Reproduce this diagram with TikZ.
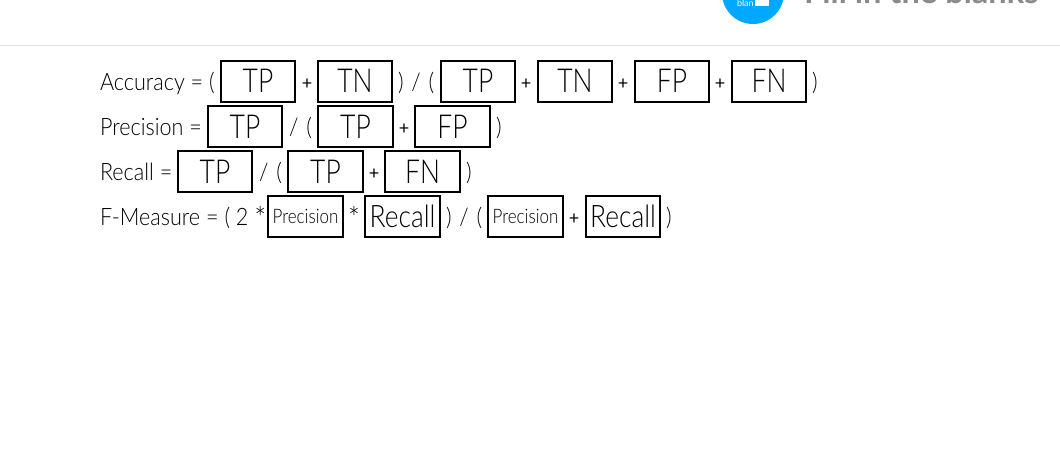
\documentclass[tikz,border=0pt]{standalone}
\usepackage{fontspec}
\setmainfont{Lato}[UprightFont=* Light,BoldFont=* Bold,FakeStretch=0.9]
\newfontfamily\boxfont{Lato}[UprightFont=* Light,FakeStretch=0.8]
\newfontfamily\wordfont{Lato}[UprightFont=* Light,FakeStretch=0.85]
\newfontfamily\plainfont{Lato}
\definecolor{brandblue}{HTML}{00A9FF}
\definecolor{titlegrey}{HTML}{8A8A8A}
\definecolor{rulegrey}{HTML}{E2E2E2}
\newcommand{\bigsz}{\boxfont\fontsize{33}{33}\selectfont}
\newcommand{\recsz}{\wordfont\fontsize{31}{31}\selectfont}
\newcommand{\lblsz}{\fontsize{24}{24}\selectfont}
\newcommand{\smsz}{\wordfont\fontsize{20}{20}\selectfont}
\newcommand{\starsz}{\fontsize{31}{31}\selectfont}
\tikzset{
  every node/.style={inner sep=0pt,outer sep=0pt},
  blankbox/.style={draw=black,line width=2pt,minimum height=41pt,anchor=center,text=black},
  wide/.style={blankbox,minimum width=74pt,font=\bigsz},
  wider/.style={wide,minimum width=75pt},
  lbl/.style={anchor=base west,font=\lblsz,text=black},
  plus/.style={anchor=base,font=\plainfont\fontsize{18}{18}\selectfont,text=black},
}
\begin{document}
\begin{tikzpicture}[x=1pt,y=-1pt]
\useasboundingbox (0,0) rectangle (1060,451);
\begin{scope}
\clip (0,0) rectangle (1060,451);
\fill[white] (0,0) rectangle (1060,451);
\node[circle,fill=brandblue,minimum size=62pt] (logo) at (753,-7) {};
\node[anchor=base west,text=white,font=\plainfont\fontsize{9}{9}\selectfont] (logotext) at (737,6) {blan};
\node[fill=white,minimum width=14pt,minimum height=7pt,anchor=north west] (logobox) at (755,-1) {};
\node[anchor=base west,text=titlegrey,font=\fontsize{32.6}{33}\selectfont\plainfont\bfseries] (title) at (804,3) {Fill in the blanks};
\end{scope}
\coordinate (ruleL) at (0,45);
\coordinate (ruleR) at (1060,45);
\draw[rulegrey,line width=1pt] (ruleL) -- (ruleR);
% row 1
\node[lbl] (a0) at (100,90) {Accuracy = (};
\node[wide] (a1) at (258,81) {TP};
\node[plus] (ap1) at (307,89) {+};
\node[wide] (a2) at (355,81) {TN};
\node[lbl] (a3) at (398,90) {)\hspace{2pt} / \hspace{2pt}(};
\node[wide] (a4) at (478,81) {TP};
\node[plus] (ap2) at (526,89) {+};
\node[wide] (a5) at (575,81) {TN};
\node[plus] (ap3) at (623,89) {+};
\node[wide] (a6) at (672,81) {FP};
\node[plus] (ap4) at (720,89) {+};
\node[wide] (a7) at (769,81) {FN};
\node[lbl] (a8) at (812,90) {)};
% row 2
\node[lbl] (p0) at (100,135) {Precision =};
\node[wide] (p1) at (245,126.5) {TP};
\node[lbl] (p2) at (289,135) {/\hspace{2pt} (};
\node[wider] (p3) at (355.5,126.5) {TP};
\node[plus] (pp1) at (404,134) {+};
\node[wider] (p4) at (452.5,126.5) {FP};
\node[lbl] (p5) at (496,135) {)};
% row 3
\node[lbl] (r0) at (100,180) {Recall =};
\node[wide] (r1) at (215,171.5) {TP};
\node[lbl] (r2) at (259,180) {/\hspace{2pt} (};
\node[wider] (r3) at (325.5,171.5) {TP};
\node[plus] (rp1) at (374,179) {+};
\node[wider] (r4) at (422.5,171.5) {FN};
\node[lbl] (r5) at (466,180) {)};
% row 4
\node[lbl] (f0) at (100,225) {F-Measure = ( 2 \raisebox{-4pt}{\starsz *}};
\node[blankbox,minimum width=75pt,font=\smsz] (f1) at (305.5,216.5) {Precision};
\node[lbl,font=\starsz] (f2) at (348,229) {*};
\node[blankbox,minimum width=75pt,font=\recsz] (f3) at (402.5,216.5) {Recall};
\node[lbl] (f4) at (446,225) {)\hspace{2pt} / \hspace{2pt}(};
\node[blankbox,minimum width=75pt,font=\smsz] (f5) at (525.5,216.5) {Precision};
\node[plus] (fp1) at (574,224) {+};
\node[blankbox,minimum width=74pt,font=\recsz] (f6) at (623,216.5) {Recall};
\node[lbl] (f7) at (666,225) {)};
\end{tikzpicture}
\end{document}
